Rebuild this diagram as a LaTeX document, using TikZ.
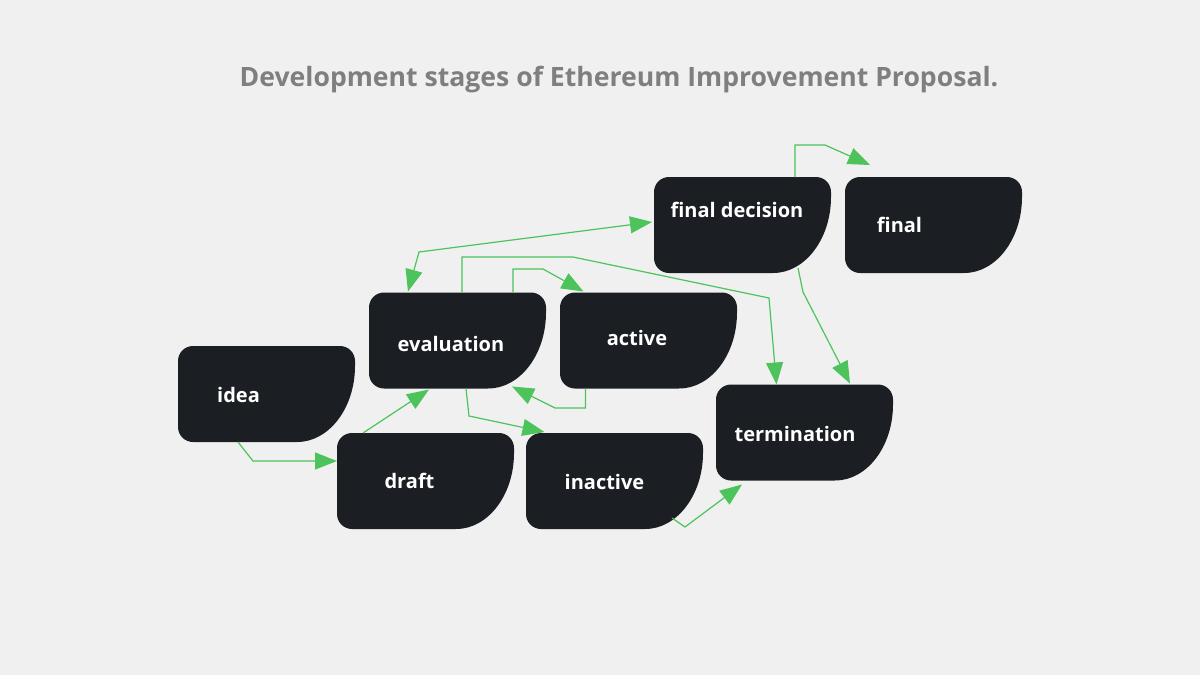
\documentclass[tikz,border=0pt]{standalone}
\usepackage{fontspec}
\setmainfont{Open Sans}
\usepackage{tikz}
\usetikzlibrary{arrows.meta,calc}
\definecolor{paper}{HTML}{F0F0F0}
\definecolor{ink}{HTML}{1B1F23}
\definecolor{muted}{HTML}{7F7F7F}
\definecolor{leaf}{HTML}{4DC35B}
\tikzset{
  >={Triangle[length=11pt,width=8.5pt]},
  stage/.style={rectangle,minimum width=88.5pt,minimum height=48pt,inner sep=0pt,outer sep=0pt,
    path picture={\fill[ink] ([yshift=-7.5pt]path picture bounding box.north west)
      -- ++(0pt,-33pt) arc[start angle=180,end angle=270,radius=7.5pt]
      -- ++(52pt,0pt) arc[start angle=270,end angle=360,x radius=29pt,y radius=38pt]
      -- ++(0pt,2.5pt) arc[start angle=0,end angle=90,radius=7.5pt]
      -- ++(-73.5pt,0pt) arc[start angle=90,end angle=180,radius=7.5pt] -- cycle;}},
  stagetext/.style={text=white,font=\bfseries\fontsize{10pt}{12pt}\selectfont,inner sep=0pt},
  flow/.style={->,line width=.6pt,draw=leaf},
  heading/.style={text=muted,font=\bfseries\fontsize{13.3pt}{16pt}\selectfont},
}

\begin{document}
\begin{tikzpicture}[x=.5pt,y=-.5pt]
  \fill[paper] (0,0) rectangle (1200,675);
  \node[heading] (title) at (619,80) {Development stages of Ethereum Improvement Proposal.};

  \node[stage,label={[stagetext,xshift=-14pt,yshift=-.5pt]center:idea}] (idea) at (266.5,394) {};
  \node[stage,label={[stagetext,xshift=-8pt]center:draft}] (draft) at (425.5,481) {};
  \node[stage,label={[stagetext,xshift=-3.25pt,yshift=-1.75pt]center:evaluation}] (evaluation) at (457.5,340.5) {};
  \node[stage,label={[stagetext,xshift=-5.75pt,yshift=1.25pt]center:active}] (active) at (648.5,340.5) {};
  \node[stage,label={[stagetext,xshift=-5pt,yshift=-.5pt]center:inactive}] (inactive) at (614.5,481) {};
  \node[stage,label={[stagetext,xshift=-4.75pt,yshift=-.75pt]center:termination}] (termination) at (804.5,432.5) {};
  \node[stage,label={[stagetext,xshift=-2.75pt,yshift=7.5pt]center:final decision}] (finaldecision) at (742.5,225) {};
  \node[stage,label={[stagetext,xshift=-17pt]center:final}] (final) at (933.5,225) {};

  \draw[flow] ($(idea.south)+(-28.5,0)$) -- (253,461) -- ($(draft.west)+(0,-20)$);
  \draw[flow] ($(draft.north)+(-62.5,0)$) -- ($(evaluation.south)+(-28.5,1)$);
  \draw[flow] ($(evaluation.south)+(8.5,0)$) -- (469,416) -- ($(inactive.north)+(-70,-1)$);
  \draw[flow] ($(evaluation.north)+(55.5,0)$) -- (513,269) -- (543,269) -- ($(active.north)+(-65,-1)$);
  \draw[flow] ($(active.south)+(-63,0)$) -- (585.5,408) -- (555,408) -- ($(evaluation.south east)+(-34,-2)$);
  \draw[flow] ($(evaluation.north)+(4.5,0)$) -- (462,257) -- (573,257) -- (769,298) -- ($(termination.north)+(-28,0)$);
  \draw[flow,<->] ($(evaluation.north)+(-49.5,-1)$) -- (419,252) -- ($(finaldecision.west)+(-2,-3)$);
  \draw[flow] ($(finaldecision.north)+(52.5,0)$) -- (795,145) -- (825,145) -- ($(final.north)+(-63.5,-12)$);
  \draw[flow] ($(finaldecision.south east)+(-33,-5)$) -- (803,292) -- ($(termination.north)+(45.5,-1)$);
  \draw[flow] ($(inactive.south east)+(-31,-11)$) -- (685,527) -- ($(termination.south)+(-62.5,4)$);
\end{tikzpicture}
\end{document}
